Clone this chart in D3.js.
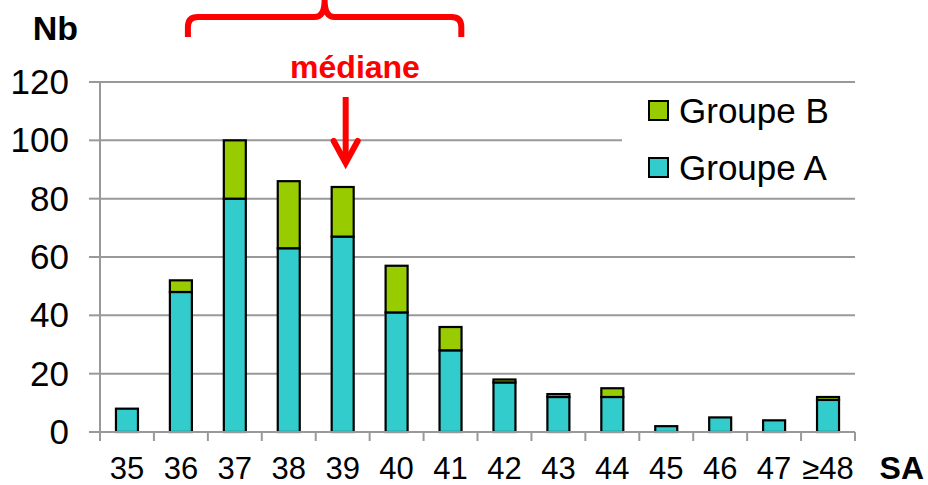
<!DOCTYPE html>
<html>
<head>
<meta charset="utf-8">
<script src="https://cdn.jsdelivr.net/npm/d3@7"></script>
<style>
  body { margin: 0; background: #fff; }
  svg { font-family: Arial, "Liberation Sans", sans-serif; }
</style>
</head>
<body>
<svg id="chart"></svg>
<script>
// Data
const categories = ["35", "36", "37", "38", "39", "40", "41", "42", "43", "44", "45", "46", "47", "≥48"];
const groupeA = [8, 48, 80, 63, 67, 41, 28, 17, 12, 12, 2, 5, 4, 11];
const groupeB = [0, 4, 20, 23, 17, 16, 8, 1, 1, 3, 0, 0, 0, 1];
const yTicks = [0, 20, 40, 60, 80, 100, 120];
const seriesNames = ["Groupe A", "Groupe B"];
const colors = { "Groupe A": "#33CCCC", "Groupe B": "#99CC00" };

const width = 928;
const height = 485;
const margin = { top: 82, right: 73, bottom: 53, left: 100 };

const svg = d3.select("#chart")
  .attr("width", width)
  .attr("height", height)
  .attr("viewBox", [0, 0, width, height]);

const x = d3.scaleBand()
  .domain(categories)
  .range([margin.left, width - margin.right])
  .paddingInner(0)
  .paddingOuter(0);

const y = d3.scaleLinear()
  .domain([0, 120])
  .range([height - margin.bottom, margin.top]);

// Gridlines
svg.append("g")
  .selectAll("line")
  .data(yTicks.filter(d => d > 0))
  .join("line")
  .attr("x1", margin.left)
  .attr("x2", width - margin.right)
  .attr("y1", d => y(d))
  .attr("y2", d => y(d))
  .attr("stroke", "#999")
  .attr("stroke-width", 2);

// Stacked bars
const table = categories.map((c, i) => ({ cat: c, "Groupe A": groupeA[i], "Groupe B": groupeB[i] }));
const stacked = d3.stack().keys(seriesNames)(table);
const barW = 22;

svg.append("g")
  .selectAll("g")
  .data(stacked)
  .join("g")
  .attr("fill", d => colors[d.key])
  .selectAll("rect")
  .data(d => d.filter(p => p[1] > p[0]))
  .join("rect")
  .attr("x", d => x(d.data.cat) + x.bandwidth() / 2 - barW / 2)
  .attr("y", d => y(d[1]))
  .attr("width", barW)
  .attr("height", d => y(d[0]) - y(d[1]))
  .attr("stroke", "#000")
  .attr("stroke-width", 2.2);

// X axis
const xAxisY = y(0);
const xg = svg.append("g");
xg.append("line")
  .attr("x1", margin.left - 11).attr("x2", width - margin.right)
  .attr("y1", xAxisY).attr("y2", xAxisY)
  .attr("stroke", "#999").attr("stroke-width", 2);
xg.selectAll("line.tick")
  .data(categories.map(c => x(c)).concat([width - margin.right]))
  .join("line")
  .attr("class", "tick")
  .attr("x1", d => d).attr("x2", d => d)
  .attr("y1", xAxisY).attr("y2", xAxisY + 9)
  .attr("stroke", "#999").attr("stroke-width", 2);
xg.selectAll("text")
  .data(categories)
  .join("text")
  .attr("x", d => x(d) + x.bandwidth() / 2)
  .attr("y", 479)
  .attr("text-anchor", "middle")
  .style("font-size", "31px")
  .text(d => d);

// Y axis
const yg = svg.append("g");
yg.append("line")
  .attr("x1", margin.left).attr("x2", margin.left)
  .attr("y1", y(120)).attr("y2", xAxisY + 9)
  .attr("stroke", "#999").attr("stroke-width", 2);
yg.selectAll("line.tick")
  .data(yTicks)
  .join("line")
  .attr("class", "tick")
  .attr("x1", margin.left - 11).attr("x2", margin.left)
  .attr("y1", d => y(d)).attr("y2", d => y(d))
  .attr("stroke", "#999").attr("stroke-width", 2);
yg.selectAll("text")
  .data(yTicks)
  .join("text")
  .attr("x", 69)
  .attr("y", d => y(d) + 12)
  .attr("text-anchor", "end")
  .style("font-size", "35px")
  .text(d => d);

// Axis titles
svg.append("text")
  .attr("x", 78).attr("y", 40)
  .attr("text-anchor", "end")
  .style("font-size", "34px").style("font-weight", "bold")
  .text("Nb");
svg.append("text")
  .attr("x", 924).attr("y", 479)
  .attr("text-anchor", "end")
  .style("font-size", "32px").style("font-weight", "bold")
  .text("SA");

// Legend
const legend = svg.append("g");
legend.append("rect")
  .attr("x", 622).attr("y", 88)
  .attr("width", width - margin.right - 622).attr("height", 104)
  .attr("fill", "#fff");
const legendItems = ["Groupe B", "Groupe A"];
legend.selectAll("g")
  .data(legendItems)
  .join("g")
  .attr("transform", (d, i) => `translate(649,${101 + i * 57})`)
  .call(g => g.append("rect")
    .attr("width", 19).attr("height", 19)
    .attr("fill", d => colors[d])
    .attr("stroke", "#000").attr("stroke-width", 2))
  .call(g => g.append("text")
    .attr("x", 30).attr("y", 22)
    .style("font-size", "35px")
    .text(d => d));

// Annotations: brace over 37-41 and median arrow on 39
const red = "#FF0000";
const bx0 = x("36") + x.bandwidth() * 0.63;
const bx1 = x("41") + x.bandwidth() * 0.7;
const bmid = (bx0 + bx1) / 2;
const r = 10;
svg.append("path")
  .attr("d", `M${bx0},37 L${bx0},${17 + r} Q${bx0},17 ${bx0 + r},17 L${bmid - r},17 Q${bmid},17 ${bmid},0
              M${bmid},0 Q${bmid},17 ${bmid + r},17 L${bx1 - r},17 Q${bx1},17 ${bx1},${17 + r} L${bx1},37`)
  .attr("fill", "none")
  .attr("stroke", red)
  .attr("stroke-width", 6);

svg.append("text")
  .attr("x", 355).attr("y", 78)
  .attr("text-anchor", "middle")
  .style("font-size", "32px").style("font-weight", "bold")
  .attr("fill", red)
  .text("médiane");

const ax = x("39") + x.bandwidth() / 2 + 3;
svg.append("line")
  .attr("x1", ax).attr("x2", ax)
  .attr("y1", 97).attr("y2", 162)
  .attr("stroke", red).attr("stroke-width", 6);
svg.append("path")
  .attr("d", `M${ax - 12},141 L${ax},163 L${ax + 12},141`)
  .attr("fill", "none")
  .attr("stroke", red)
  .attr("stroke-width", 6)
  .attr("stroke-linecap", "round");
</script>
</body>
</html>
